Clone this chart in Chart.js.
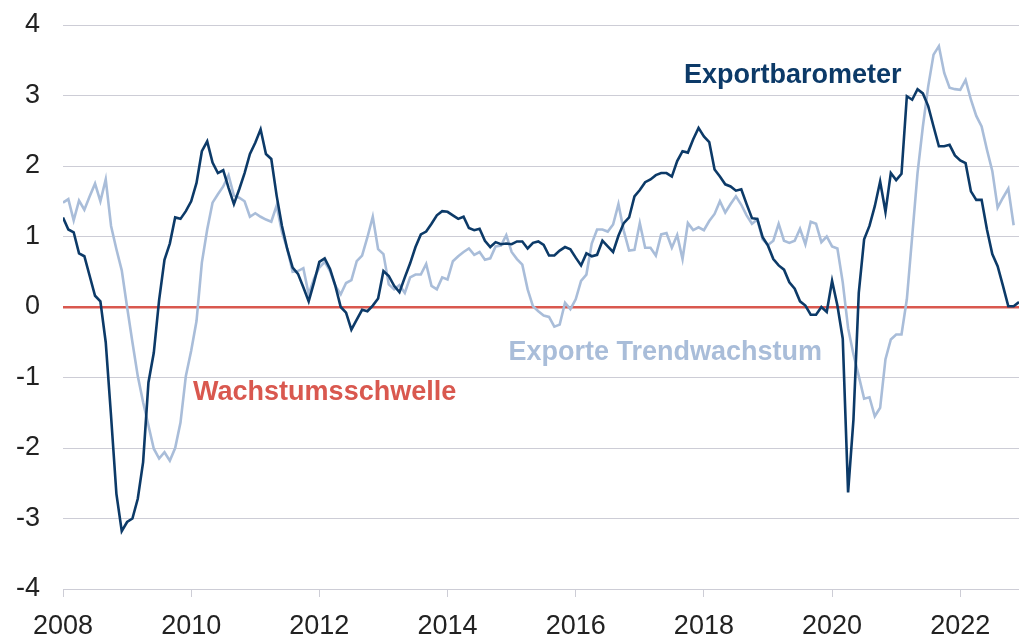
<!DOCTYPE html>
<html lang="de">
  <head>
    <meta charset="utf-8" />
    <title>Exportbarometer</title>
    <style>
      * {
        margin: 0;
        padding: 0;
      }
      body {
        background: #ffffff;
      }
      .chartBox {
        width: 1019px;
        height: 639px;
      }
    </style>
  </head>
  <body>
    <div class="chartBox">
      <canvas id="myChart" width="1019" height="639"></canvas>
    </div>

    <script src="https://cdn.jsdelivr.net/npm/chart.js"></script>

    <script>
      // data block: monthly values, Jan 2008 .. Dec 2022
      const startYear = 2008;
      const yearTicks = [2008, 2010, 2012, 2014, 2016, 2018, 2020, 2022];
      const valueTicks = [-4, -3, -2, -1, 0, 1, 2, 3, 4];

      const exportbarometer = [
        1.27, 1.10, 1.06, 0.76, 0.72, 0.44, 0.16, 0.08, -0.5, -1.55, -2.65, -3.18,
        -3.05, -3.0, -2.72, -2.2, -1.07, -0.65, 0.1, 0.67, 0.9, 1.27, 1.25, 1.36,
        1.5, 1.76, 2.21, 2.35, 2.05, 1.9, 1.94, 1.69, 1.46, 1.67, 1.9, 2.17,
        2.33, 2.52, 2.17, 2.1, 1.58, 1.15, 0.82, 0.56, 0.47, 0.28, 0.08, 0.35,
        0.64, 0.69, 0.54, 0.3, 0.0, -0.08, -0.32, -0.18, -0.04, -0.06, 0.02, 0.12,
        0.51, 0.44, 0.3, 0.21, 0.42, 0.62, 0.85, 1.03, 1.07, 1.18, 1.3, 1.36,
        1.35, 1.3, 1.25, 1.28, 1.12, 1.09, 1.11, 0.94, 0.85, 0.92, 0.89, 0.9,
        0.89, 0.93, 0.93, 0.83, 0.91, 0.93, 0.88, 0.73, 0.73, 0.8, 0.85, 0.82,
        0.7, 0.59, 0.76, 0.72, 0.74, 0.94, 0.86, 0.78, 1.01, 1.19, 1.27, 1.57,
        1.66, 1.77, 1.81, 1.87, 1.9, 1.9, 1.85, 2.07, 2.21, 2.19, 2.38, 2.54,
        2.42, 2.34, 1.95, 1.85, 1.74, 1.71, 1.65, 1.67, 1.46, 1.26, 1.25, 0.99,
        0.87, 0.68, 0.59, 0.53, 0.35, 0.26, 0.08, 0.02, -0.11, -0.11, 0.0, -0.07,
        0.37, 0.02, -0.45, -2.63, -1.6, 0.2, 0.96, 1.15, 1.43, 1.78, 1.35, 1.9,
        1.8, 1.89, 2.99, 2.94, 3.09, 3.03, 2.85, 2.56, 2.28, 2.28, 2.3, 2.15,
        2.08, 2.04, 1.64, 1.52, 1.52, 1.1, 0.75, 0.58, 0.3, 0.01, 0.01, 0.07,
      ];

      const trendwachstum = [
        1.48, 1.53, 1.23, 1.51, 1.38, 1.57, 1.75, 1.5, 1.81, 1.15, 0.82, 0.52,
        0.0, -0.5, -0.98, -1.35, -1.68, -2.01, -2.15, -2.06, -2.18, -2.0, -1.64, -0.98,
        -0.62, -0.2, 0.63, 1.1, 1.48, 1.6, 1.71, 1.87, 1.58, 1.55, 1.5, 1.28,
        1.33, 1.28, 1.24, 1.21, 1.44, 1.06, 0.82, 0.5, 0.51, 0.55, 0.18, 0.4,
        0.56, 0.64, 0.51, 0.3, 0.18, 0.34, 0.38, 0.65, 0.73, 0.99, 1.28, 0.82,
        0.75, 0.32, 0.25, 0.31, 0.2, 0.42, 0.46, 0.46, 0.61, 0.3, 0.25, 0.42,
        0.39, 0.65, 0.72, 0.78, 0.83, 0.74, 0.78, 0.67, 0.69, 0.86, 0.87, 1.02,
        0.78, 0.68, 0.6, 0.25, 0.01, -0.06, -0.12, -0.14, -0.28, -0.25, 0.06, -0.03,
        0.11, 0.37, 0.46, 0.9, 1.1, 1.1, 1.07, 1.17, 1.46, 1.08, 0.8, 0.81,
        1.19, 0.84, 0.84, 0.73, 1.03, 1.05, 0.84, 1.02, 0.68, 1.19, 1.09, 1.13,
        1.09, 1.22, 1.32, 1.5, 1.34, 1.46, 1.57, 1.45, 1.3, 1.18, 1.24, 0.96,
        0.88, 0.94, 1.18, 0.94, 0.91, 0.94, 1.11, 0.89, 1.21, 1.18, 0.92, 1.0,
        0.86, 0.83, 0.35, -0.3, -0.67, -0.98, -1.3, -1.28, -1.55, -1.43, -0.74, -0.46,
        -0.39, -0.39, 0.11, 1.0, 1.9, 2.56, 3.13, 3.58, 3.7, 3.32, 3.11, 3.09,
        3.08, 3.22, 2.94, 2.71, 2.56, 2.23, 1.93, 1.41, 1.55, 1.68, 1.16,
      ];

      const navy = "#0c3a68";
      const lightBlue = "#a9bdd9";
      const red = "#d9584f";
      const gridGrey = "#cdcdd6";

      const toPoints = (values) =>
        values.map((v, i) => ({ x: startYear + i / 12, y: v }));

      // text labels placed in data units
      const seriesLabels = [
        { text: "Exportbarometer", x: 2017.69, y: 3.28, color: navy },
        { text: "Exporte Trendwachstum", x: 2014.95, y: -0.64, color: lightBlue },
        { text: "Wachstumsschwelle", x: 2010.03, y: -1.21, color: red },
      ];

      const labelPlugin = {
        id: "labelPlugin",
        afterDatasetsDraw(chart) {
          const {
            ctx,
            scales: { x, y },
          } = chart;
          ctx.save();
          ctx.font = "bold 27px 'Liberation Sans', Arial, sans-serif";
          ctx.textAlign = "left";
          ctx.textBaseline = "middle";
          seriesLabels.forEach((l) => {
            ctx.fillStyle = l.color;
            ctx.fillText(l.text, x.getPixelForValue(l.x), y.getPixelForValue(l.y));
          });
          ctx.restore();
        },
      };

      const data = {
        datasets: [
          {
            label: "Exportbarometer",
            data: toPoints(exportbarometer),
            borderColor: navy,
            borderWidth: 2.6,
            pointRadius: 0,
            tension: 0,
          },
          {
            label: "Exporte Trendwachstum",
            data: toPoints(trendwachstum),
            borderColor: lightBlue,
            borderWidth: 2.6,
            pointRadius: 0,
            tension: 0,
          },
        ],
      };

      const tickFont = {
        family: "'Liberation Sans', Arial, sans-serif",
        size: 27,
        lineHeight: 1,
      };

      // config block
      const config = {
        type: "line",
        data: data,
        options: {
          responsive: false,
          animation: false,
          layout: { padding: { top: 25, right: 0, bottom: 0, left: 0 } },
          plugins: {
            legend: { display: false },
            tooltip: { enabled: false },
          },
          scales: {
            x: {
              type: "linear",
              min: startYear,
              max: startYear + (exportbarometer.length - 1) / 12,
              afterBuildTicks: (axis) => {
                axis.ticks = yearTicks.map((v) => ({ value: v }));
              },
              afterFit: (axis) => {
                axis.height = 50;
              },
              ticks: {
                font: tickFont,
                color: "#222222",
                padding: 16,
                maxRotation: 0,
                callback: (v) => String(v),
              },
              grid: {
                drawOnChartArea: false,
                drawTicks: true,
                tickLength: 8,
                color: gridGrey,
              },
              border: { display: false },
            },
            y: {
              min: -4,
              max: 4,
              afterBuildTicks: (axis) => {
                axis.ticks = valueTicks.map((v) => ({ value: v }));
              },
              afterFit: (axis) => {
                axis.width = 63;
                axis.paddingTop = 0;
                axis.paddingBottom = 0;
              },
              ticks: {
                font: tickFont,
                color: "#222222",
                padding: 23,
                callback: (v) => String(v),
              },
              grid: {
                drawTicks: false,
                color: (c) => (c.tick && c.tick.value === 0 ? red : gridGrey),
                lineWidth: (c) => (c.tick && c.tick.value === 0 ? 2.6 : 1),
              },
              border: { display: false },
            },
          },
        },
        plugins: [labelPlugin],
      };

      // init render block
      const myChart = new Chart(document.getElementById("myChart"), config);
    </script>
  </body>
</html>
